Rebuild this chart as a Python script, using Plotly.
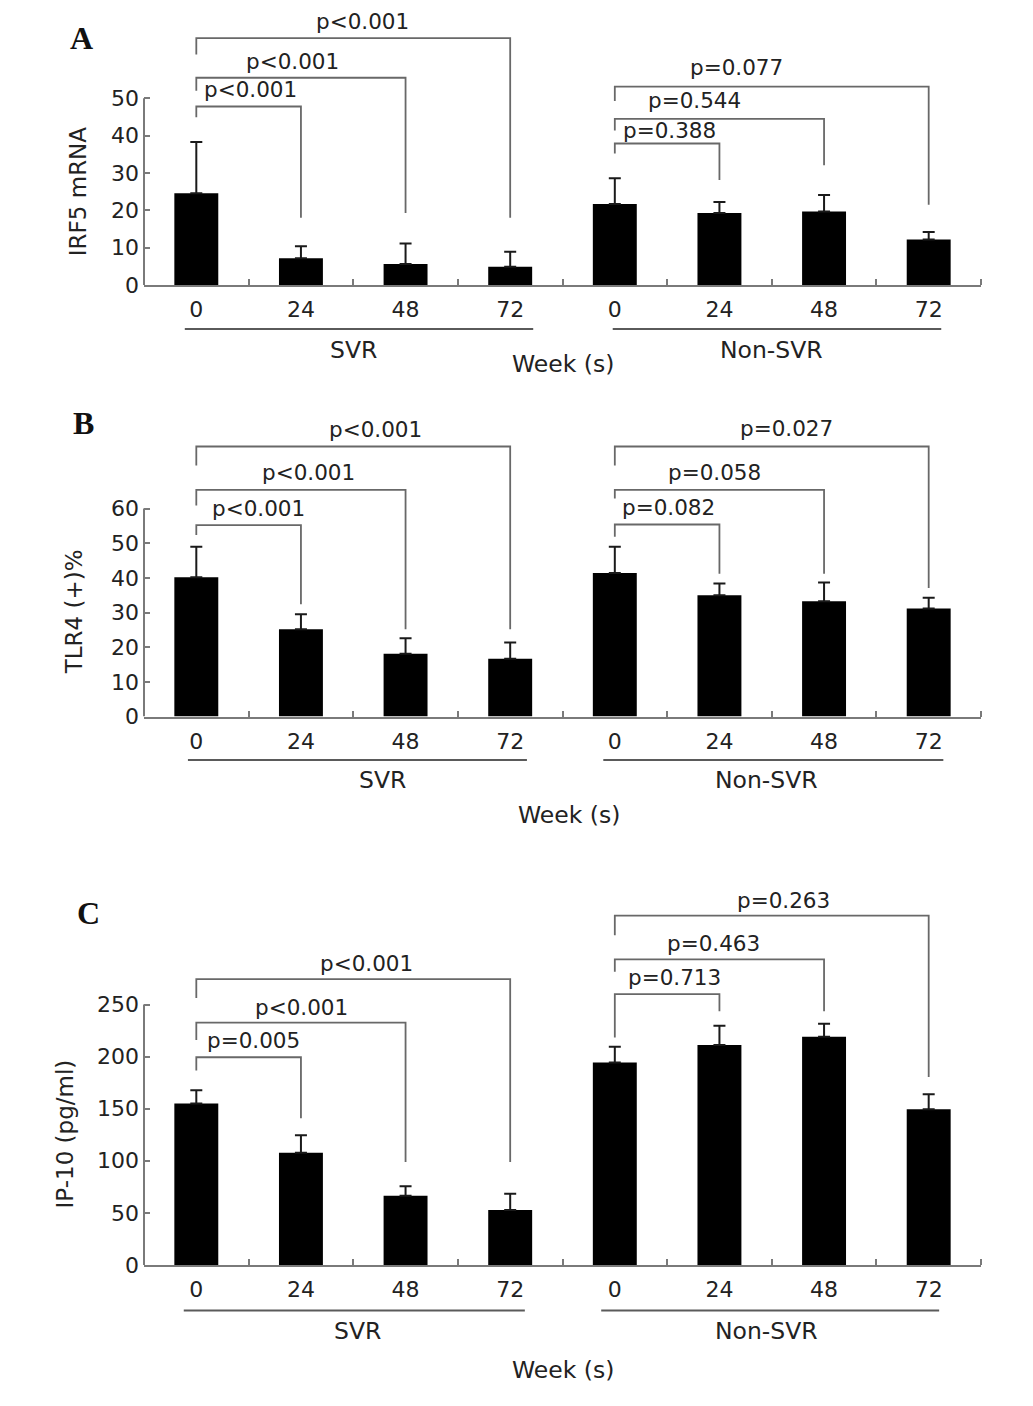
import plotly.graph_objects as go

W, H = 1033, 1406

# ---------------- data ----------------
weeks = ["0", "24", "48", "72", "0", "24", "48", "72"]
groups = ["SVR", "Non-SVR"]
x_axis_title = "Week (s)"

irf5_mean = [24.6, 7.2, 5.6, 4.9, 21.7, 19.3, 19.7, 12.2]
irf5_err = [13.7, 3.2, 5.5, 4.0, 6.9, 2.9, 4.4, 2.0]
irf5_p = ["p<0.001", "p<0.001", "p<0.001", "p=0.388", "p=0.544", "p=0.077"]

tlr4_mean = [40.2, 25.2, 18.1, 16.7, 41.4, 35.0, 33.3, 31.2]
tlr4_err = [8.8, 4.3, 4.5, 4.7, 7.6, 3.4, 5.4, 3.1]
tlr4_p = ["p<0.001", "p<0.001", "p<0.001", "p=0.082", "p=0.058", "p=0.027"]

ip10_mean = [155.1, 107.6, 66.5, 52.8, 194.3, 211.1, 219.0, 149.4]
ip10_err = [12.6, 16.8, 9.1, 15.6, 15.2, 18.6, 12.6, 14.5]
ip10_p = ["p=0.005", "p<0.001", "p<0.001", "p=0.713", "p=0.463", "p=0.263"]

# comparisons: (from index, to index)
pairs = [(0, 1), (0, 2), (0, 3), (4, 5), (4, 6), (4, 7)]

# ---------------- bracket geometry (value units) ----------------
# (bracket height, left foot, right foot, label x, label y)
irf5_br = [(47.8, 44.9, 18.0, 0.52, 52.4), (55.5, 52.0, 19.3, 0.92, 59.9),
           (66.1, 61.7, 18.0, 1.59, 70.6), (37.9, 35.2, 28.1, 4.52, 41.4),
           (44.5, 41.4, 32.1, 4.76, 49.3), (53.1, 49.3, 21.5, 5.16, 58.2)]
tlr4_br = [(55.2, 52.4, 32.4, 0.59, 60.0), (65.4, 60.9, 25.2, 1.07, 70.3),
           (77.9, 72.4, 25.2, 1.71, 82.9), (55.4, 51.9, 41.2, 4.51, 60.3),
           (65.4, 62.9, 41.2, 4.95, 70.5), (77.9, 72.4, 37.1, 5.64, 83.0)]
ip10_br = [(199.4, 186.7, 140.8, 0.55, 215.2), (232.6, 216.0, 98.7, 1.01, 247.5),
           (274.4, 256.3, 98.7, 1.63, 289.6), (260.1, 218.4, 243.7, 4.57, 276.0),
           (293.4, 281.6, 243.7, 4.94, 308.5), (335.4, 316.5, 180.4, 5.61, 349.7)]

# ---------------- styling / layout ----------------
FONT = "DejaVu Sans"
TXT = "#222222"
AX = "#7a7a7a"
BR = "#686868"

panels = [
    dict(mean=irf5_mean, err=irf5_err, p=irf5_p, br=irf5_br, title="IRF5 mRNA",
         y0px=287.7, ppu=3.77, top=76, ymax=50, dtick=10, letter="A", letter_px=(81, 38),
         title_px=(78, 193), line_px=332, grp_px=353, week_px=367, week_x=3.5,
         svr_x=1.5, non_x=5.5, svr_line=(-0.11, 3.22), non_line=(3.98, 7.12)),
    dict(mean=tlr4_mean, err=tlr4_err, p=tlr4_p, br=tlr4_br, title="TLR4 (+)%",
         y0px=723.3, ppu=3.5, top=90, ymax=60, dtick=10, letter="B", letter_px=(83, 427),
         title_px=(74, 618), line_px=767, grp_px=787, week_px=823, week_x=3.56,
         svr_x=1.78, non_x=5.45, svr_line=(-0.08, 3.16), non_line=(3.89, 7.14)),
    dict(mean=ip10_mean, err=ip10_err, p=ip10_p, br=ip10_br, title="IP-10 (pg/ml)",
         y0px=1276.7, ppu=1.051, top=365, ymax=250, dtick=50, letter="C", letter_px=(88, 922),
         title_px=(65, 1145), line_px=1322.7, grp_px=1343, week_px=1383, week_x=3.5,
         svr_x=1.54, non_x=5.45, svr_line=(-0.12, 3.14), non_line=(3.87, 7.1)),
]

xdom = [144 / W, 981 / W]

fig = go.Figure()
shapes = []
annotations = []
layout_axes = {}

for k, pn in enumerate(panels, start=1):
    xs = "" if k == 1 else str(k)
    xname, yname = "x" + xs, "y" + xs
    xpos = list(range(len(weeks)))

    fig.add_trace(go.Bar(
        x=xpos, y=pn["mean"], width=0.42, xaxis=xname, yaxis=yname,
        marker=dict(color="black", line=dict(width=0)),
        error_y=dict(type="data", symmetric=False, array=pn["err"],
                     arrayminus=[0] * len(pn["err"]), color="#1a1a1a",
                     thickness=2, width=6),
        showlegend=False, hoverinfo="skip"))

    ydom = [1 - pn["y0px"] / H, 1 - (pn["y0px"] - pn["top"] * pn["ppu"]) / H]
    yticks = list(range(0, pn["ymax"] + 1, pn["dtick"]))

    layout_axes["xaxis" + xs] = dict(
        domain=xdom, anchor=yname, range=[-0.5, 7.5], tickmode="array",
        tickvals=xpos, ticktext=weeks, ticks="", showline=True, linecolor=AX,
        linewidth=2, showgrid=False, zeroline=False, fixedrange=True,
        tickfont=dict(family=FONT, size=22, color=TXT), ticklabelstandoff=4,
        minor=dict(tickmode="array", tickvals=[i + 0.5 for i in xpos],
                   ticks="inside", ticklen=6, tickwidth=2, tickcolor=AX))
    layout_axes["yaxis" + xs] = dict(
        domain=ydom, anchor=xname, range=[0, pn["top"]], tickmode="array",
        tickvals=yticks, ticktext=[str(v) for v in yticks], ticks="inside",
        ticklen=6, tickwidth=2, tickcolor=AX, showline=False, showgrid=False,
        zeroline=False, fixedrange=True, ticklabelstandoff=4,
        tickfont=dict(family=FONT, size=22, color=TXT))

    # y-axis line up to last tick only
    shapes.append(dict(type="line", xref=xname + " domain", yref=yname,
                       x0=0, x1=0, y0=0, y1=pn["ymax"],
                       line=dict(color=AX, width=2)))

    # significance brackets
    for (i, j), (hb, lf, rf, lx, ly), lab in zip(pairs, pn["br"], pn["p"]):
        shapes.append(dict(type="path", xref=xname, yref=yname,
                           path=f"M {i},{lf} L {i},{hb} L {j},{hb} L {j},{rf}",
                           line=dict(color=BR, width=1.8)))
        annotations.append(dict(x=lx, y=ly, xref=xname, yref=yname, text=lab,
                                showarrow=False, xanchor="center", yanchor="middle",
                                font=dict(family=FONT, size=21.5, color=TXT)))

    # group underlines and labels
    for (a, b), gx, gname in [(pn["svr_line"], pn["svr_x"], groups[0]),
                              (pn["non_line"], pn["non_x"], groups[1])]:
        shapes.append(dict(type="line", xref=xname, yref="paper", x0=a, x1=b,
                           y0=1 - pn["line_px"] / H, y1=1 - pn["line_px"] / H,
                           line=dict(color="#5a5a5a", width=2)))
        annotations.append(dict(x=gx, y=1 - pn["grp_px"] / H, xref=xname, yref="paper",
                                text=gname, showarrow=False, xanchor="center",
                                yanchor="middle",
                                font=dict(family=FONT, size=23.5, color=TXT)))
    annotations.append(dict(x=pn["week_x"], y=1 - pn["week_px"] / H, xref=xname,
                            yref="paper", text=x_axis_title, showarrow=False,
                            xanchor="center", yanchor="middle",
                            font=dict(family=FONT, size=23.5, color=TXT)))

    # y-axis title
    annotations.append(dict(x=pn["title_px"][0] / W, y=1 - pn["title_px"][1] / H,
                            xref="paper", yref="paper", text=pn["title"],
                            textangle=-90, showarrow=False, xanchor="center",
                            yanchor="middle",
                            font=dict(family=FONT, size=23, color=TXT)))
    # panel letter
    annotations.append(dict(x=pn["letter_px"][0] / W, y=1 - pn["letter_px"][1] / H,
                            xref="paper", yref="paper", text="<b>" + pn["letter"] + "</b>",
                            showarrow=False, xanchor="center", yanchor="middle",
                            font=dict(family="Liberation Serif", size=32, color="#111111")))

fig.update_layout(
    width=W, height=H, autosize=False,
    margin=dict(l=0, r=0, t=0, b=0, pad=0),
    paper_bgcolor="white", plot_bgcolor="white",
    showlegend=False, bargap=0.58,
    shapes=shapes, annotations=annotations,
    **layout_axes)

fig.write_html("out.html", config={"displayModeBar": False},
               post_script="document.body.style.margin='0px';document.body.style.overflow='hidden';")
